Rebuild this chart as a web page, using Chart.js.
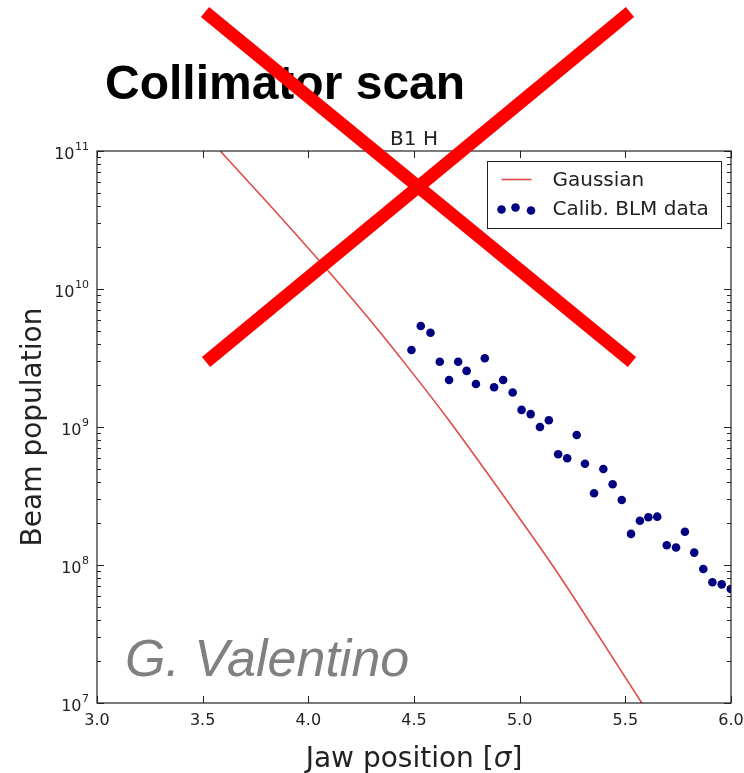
<!DOCTYPE html>
<html>
<head>
<meta charset="utf-8">
<script src="https://cdn.jsdelivr.net/npm/chart.js@4/dist/chart.umd.min.js"></script>
<style>
  html, body { margin: 0; padding: 0; background: #ffffff; }
  canvas { display: block; }
</style>
</head>
<body>
<canvas id="scan" width="744" height="773"></canvas>
<script>
// Calibrated BLM data: jaw position [sigma] and beam population
const jawPositions = [
  4.488, 4.532, 4.578, 4.622, 4.666, 4.709, 4.749, 4.793, 4.835, 4.879,
  4.922, 4.967, 5.009, 5.052, 5.096, 5.138, 5.182, 5.225, 5.270, 5.309,
  5.352, 5.396, 5.440, 5.483, 5.527, 5.569, 5.609, 5.651, 5.696, 5.740,
  5.782, 5.826, 5.869, 5.912, 5.956, 5.999
];
const blmPopulation = [
  3.61e9, 5.40e9, 4.82e9, 2.97e9, 2.19e9, 2.97e9, 2.55e9, 2.05e9, 3.15e9, 1.94e9,
  2.19e9, 1.78e9, 1.33e9, 1.24e9, 1.00e9, 1.12e9, 6.34e8, 5.93e8, 8.75e8, 5.42e8,
  3.31e8, 4.96e8, 3.85e8, 2.96e8, 1.68e8, 2.09e8, 2.22e8, 2.24e8, 1.39e8, 1.34e8,
  1.74e8, 1.23e8, 9.35e7, 7.50e7, 7.24e7, 6.70e7
];

// Gaussian tail reference curve
const gaussPositions = [3.583, 3.804, 4.049, 4.278, 4.468, 4.665, 4.957, 5.163, 5.368, 5.582];
const gaussPopulation = [1.0e11, 4.27e10, 1.62e10, 6.31e9, 2.75e9, 1.12e9, 2.69e8, 9.55e7, 3.16e7, 9.77e6];

// Axis ticks and texts
const xTickValues = [3.0, 3.5, 4.0, 4.5, 5.0, 5.5, 6.0];
const yDecadeExponents = [7, 8, 9, 10, 11];
const seriesLabels = ['Gaussian', 'Calib. BLM data'];
const panelTitle = 'B1 H';
const slideTitle = 'Collimator scan';
const authorMark = 'G. Valentino';
const xAxisTitle = ['Jaw position [', '\u03C3', ']'];
const yAxisTitle = 'Beam population';

const GAUSS_COLOR = '#e04a4a';
const DOT_COLOR = '#000080';
const INK = '#222222';
const MPL_FONT = '"DejaVu Sans", "Liberation Sans", sans-serif';

const decor = {
  id: 'decor',
  beforeDatasetsDraw(chart) {
    const ctx = chart.ctx, a = chart.chartArea;
    ctx.save();
    ctx.font = 'italic 52px "Liberation Sans", Arial, sans-serif';
    ctx.fillStyle = '#808080';
    ctx.textAlign = 'left';
    ctx.textBaseline = 'alphabetic';
    ctx.fillText(authorMark, a.left + 28, a.bottom - 27);
    ctx.restore();
  },
  afterDraw(chart) {
    const ctx = chart.ctx, a = chart.chartArea;
    const xs = chart.scales.x, ys = chart.scales.y;
    ctx.save();

    // frame
    ctx.strokeStyle = INK;
    ctx.lineWidth = 1.2;
    ctx.strokeRect(a.left, a.top, a.width, a.height);

    // inward ticks
    ctx.lineWidth = 1;
    ctx.beginPath();
    xTickValues.forEach(v => {
      const px = Math.round(xs.getPixelForValue(v)) + 0.5;
      ctx.moveTo(px, a.bottom); ctx.lineTo(px, a.bottom - 7);
      ctx.moveTo(px, a.top); ctx.lineTo(px, a.top + 7);
    });
    yDecadeExponents.forEach((e, i) => {
      const py = Math.round(ys.getPixelForValue(Math.pow(10, e))) + 0.5;
      ctx.moveTo(a.left, py); ctx.lineTo(a.left + 7, py);
      ctx.moveTo(a.right, py); ctx.lineTo(a.right - 7, py);
      if (i < yDecadeExponents.length - 1) {
        for (let m = 2; m <= 9; m++) {
          const pm = Math.round(ys.getPixelForValue(m * Math.pow(10, e))) + 0.5;
          ctx.moveTo(a.left, pm); ctx.lineTo(a.left + 4, pm);
          ctx.moveTo(a.right, pm); ctx.lineTo(a.right - 4, pm);
        }
      }
    });
    ctx.stroke();

    // x tick labels
    ctx.fillStyle = INK;
    ctx.font = '16px ' + MPL_FONT;
    ctx.textAlign = 'center';
    ctx.textBaseline = 'alphabetic';
    xTickValues.forEach(v => {
      ctx.fillText(v.toFixed(1), xs.getPixelForValue(v), a.bottom + 22);
    });

    // y tick labels as powers of ten
    yDecadeExponents.forEach(e => {
      const py = ys.getPixelForValue(Math.pow(10, e));
      const right = a.left - 8;
      ctx.font = '11px ' + MPL_FONT;
      const sup = String(e);
      const sw = ctx.measureText(sup).width;
      ctx.textAlign = 'left';
      ctx.fillText(sup, right - sw, py - 1);
      ctx.font = '16px ' + MPL_FONT;
      ctx.textAlign = 'right';
      ctx.fillText('10', right - sw - 0.5, py + 8);
    });

    // x axis title with italic sigma
    ctx.font = '28px ' + MPL_FONT;
    const w0 = ctx.measureText(xAxisTitle[0]).width;
    const w2 = ctx.measureText(xAxisTitle[2]).width;
    ctx.font = 'italic 28px ' + MPL_FONT;
    const w1 = ctx.measureText(xAxisTitle[1]).width;
    let tx = (a.left + a.right) / 2 - (w0 + w1 + w2) / 2;
    const ty = 766.5;
    ctx.textAlign = 'left';
    ctx.font = '28px ' + MPL_FONT;
    ctx.fillText(xAxisTitle[0], tx, ty); tx += w0;
    ctx.font = 'italic 28px ' + MPL_FONT;
    ctx.fillText(xAxisTitle[1], tx, ty); tx += w1;
    ctx.font = '28px ' + MPL_FONT;
    ctx.fillText(xAxisTitle[2], tx, ty);

    // y axis title
    ctx.save();
    ctx.translate(40.5, (a.top + a.bottom) / 2);
    ctx.rotate(-Math.PI / 2);
    ctx.textAlign = 'center';
    ctx.fillText(yAxisTitle, 0, 0);
    ctx.restore();

    // panel title
    ctx.font = '20px ' + MPL_FONT;
    ctx.textAlign = 'center';
    ctx.fillText(panelTitle, (a.left + a.right) / 2, a.top - 6);

    // legend
    const lgW = 234, lgH = 67;
    const lgX = a.right - 9.5 - lgW, lgY = a.top + 10.5;
    ctx.fillStyle = '#ffffff';
    ctx.fillRect(lgX, lgY, lgW, lgH);
    ctx.strokeStyle = INK;
    ctx.lineWidth = 1;
    ctx.strokeRect(lgX, lgY, lgW, lgH);
    ctx.strokeStyle = GAUSS_COLOR;
    ctx.lineWidth = 1.6;
    ctx.beginPath();
    ctx.moveTo(lgX + 14, lgY + 18); ctx.lineTo(lgX + 44, lgY + 18);
    ctx.stroke();
    ctx.fillStyle = DOT_COLOR;
    [[14, 48], [28, 46], [43.5, 49]].forEach(([dx, dy]) => {
      ctx.beginPath();
      ctx.arc(lgX + dx, lgY + dy, 4.3, 0, Math.PI * 2);
      ctx.fill();
    });
    ctx.fillStyle = INK;
    ctx.font = '20px ' + MPL_FONT;
    ctx.textAlign = 'left';
    ctx.textBaseline = 'middle';
    ctx.fillText(seriesLabels[0], lgX + 65, lgY + 19);
    ctx.fillText(seriesLabels[1], lgX + 65, lgY + 48);

    // slide title
    ctx.textBaseline = 'alphabetic';
    ctx.fillStyle = '#000000';
    ctx.font = 'bold 48px "Liberation Sans", Arial, sans-serif';
    ctx.fillText(slideTitle, 105, 99);

    // crossed-out overlay
    ctx.strokeStyle = '#ff0000';
    ctx.lineWidth = 13;
    ctx.lineCap = 'butt';
    ctx.beginPath();
    ctx.moveTo(205, 12); ctx.lineTo(632, 362);
    ctx.moveTo(630, 12); ctx.lineTo(206, 362);
    ctx.stroke();

    ctx.restore();
  }
};

new Chart(document.getElementById('scan'), {
  type: 'scatter',
  data: {
    datasets: [
      {
        label: seriesLabels[0],
        data: gaussPositions.map((x, i) => ({ x, y: gaussPopulation[i] })),
        showLine: true,
        borderColor: GAUSS_COLOR,
        borderWidth: 1.6,
        pointRadius: 0,
        cubicInterpolationMode: 'monotone',
        order: 2
      },
      {
        label: seriesLabels[1],
        data: jawPositions.map((x, i) => ({ x, y: blmPopulation[i] })),
        showLine: false,
        pointRadius: 4.3,
        pointBackgroundColor: DOT_COLOR,
        pointBorderColor: DOT_COLOR,
        pointBorderWidth: 0,
        order: 1
      }
    ]
  },
  options: {
    responsive: false,
    animation: false,
    devicePixelRatio: 1,
    layout: { padding: { top: 151, right: 13, left: 0, bottom: 0 } },
    plugins: {
      legend: { display: false },
      tooltip: { enabled: false },
      title: { display: false }
    },
    scales: {
      x: {
        type: 'linear', min: 3, max: 6,
        ticks: { display: false, stepSize: 0.5 },
        grid: { display: false },
        border: { display: false },
        afterFit(s) { s.height = 70; }
      },
      y: {
        type: 'logarithmic', min: 1e7, max: 1e11,
        ticks: { display: false },
        grid: { display: false },
        border: { display: false },
        afterFit(s) { s.width = 97; }
      }
    }
  },
  plugins: [decor]
});
</script>
</body>
</html>
